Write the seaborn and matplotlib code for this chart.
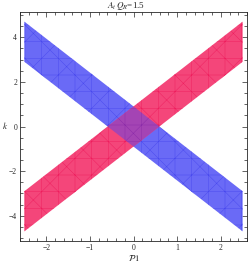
import numpy as np
import matplotlib
matplotlib.use("Agg")
import matplotlib.pyplot as plt
import seaborn as sns

# bordes de las bandas en los extremos de p1
x_ends = [-2.5, 2.5]
red_low = [-4.7, 2.9]
red_high = [-2.9, 4.7]
blue_low = [2.9, -4.7]
blue_high = [4.7, -2.9]

x_ticks = [-2, -1, 0, 1, 2]
y_ticks = [-4, -2, 0, 2, 4]

sns.set_style("ticks")
plt.rcParams['font.family'] = ['Liberation Serif', 'DejaVu Serif']
plt.rcParams['mathtext.fontset'] = 'stix'
plt.rcParams['hatch.linewidth'] = 0.3

fig = plt.figure(figsize=(2.49, 2.66), dpi=100)
ax = fig.add_axes([20/249, 25/266, 227/249, 229/266])

x = np.linspace(x_ends[0], x_ends[1], 400)
rl = np.interp(x, x_ends, red_low)
rh = np.interp(x, x_ends, red_high)
bl = np.interp(x, x_ends, blue_low)
bh = np.interp(x, x_ends, blue_high)

ax.fill_between(x, bl, bh, facecolor='#6a6af6', edgecolor='#4848ee', hatch='x+', linewidth=0)
ax.fill_between(x, rl, rh, facecolor='#f4467a', edgecolor='#ee1c5c', hatch='x+', linewidth=0)
lo = np.maximum(rl, bl)
hi = np.minimum(rh, bh)
ax.fill_between(x, lo, hi, where=hi > lo, facecolor='#a444b4', edgecolor='#8a2aa8',
                hatch='x+', linewidth=0, interpolate=True)

ax.set_xlim(-2.6, 2.6)
ax.set_ylim(-5.13, 5.13)
ax.set_xticks(x_ticks)
ax.set_yticks(y_ticks)
ax.set_xticklabels(['\u22122', '\u22121', '0', '1', '2'])
ax.set_yticklabels(['\u22124', '\u22122', '0', '2', '4'])
ax.xaxis.set_minor_locator(matplotlib.ticker.MultipleLocator(0.2))
ax.yaxis.set_minor_locator(matplotlib.ticker.MultipleLocator(0.5))
ax.tick_params(which='both', direction='in', top=True, right=True, labelsize=5.5,
               width=0.5, pad=2)
ax.tick_params(which='major', length=3.5)
ax.tick_params(which='minor', length=2)
for s in ax.spines.values():
    s.set_linewidth(0.6)

# titulo y etiquetas como texto de figura para que no se corten
fig.text(126/249, 1 - 6/266, r'$A_t\,Q_R$=1.5', fontsize=6.5, ha='center', va='center')
ax.set_xlabel(r'$\mathcal{P}1$', fontsize=6.5, labelpad=1)
fig.text(5/249, 1 - 126/266, r'$k$', fontsize=6.5, ha='center', va='center')

fig.savefig('out.png', dpi=100)
